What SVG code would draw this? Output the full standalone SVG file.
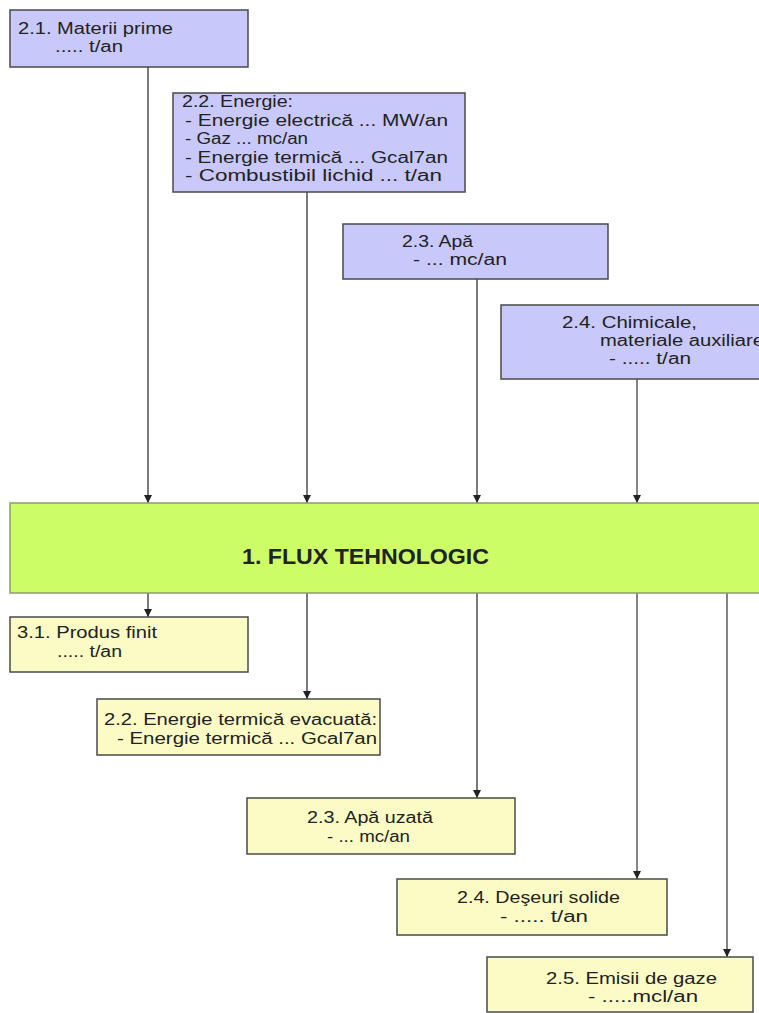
<svg xmlns="http://www.w3.org/2000/svg" width="759" height="1013" viewBox="0 0 759 1013">
<style>
.in{fill:#c8c8fa;stroke:#4a4a4a;stroke-width:1.5}
.out{fill:#fbfbc6;stroke:#4a4a4a;stroke-width:1.5}
.flux{fill:#ccfd66;stroke:#8a9a70;stroke-width:1.5}
.t{font-family:"Liberation Sans",Arial,sans-serif;font-size:16px;fill:#222}
.b{font-family:"Liberation Sans",Arial,sans-serif;font-size:22px;font-weight:bold;fill:#222}
.c{stroke:#333;stroke-width:1.3;fill:none;marker-end:url(#ah)}
.g{stroke:#777;stroke-width:1.8}
</style>
<defs>
<marker id="ah" markerUnits="userSpaceOnUse" markerWidth="8" markerHeight="8" refX="8" refY="4" orient="auto">
<path d="M0,0 L8,4 L0,8 z" fill="#222"/>
</marker>
</defs>
<rect width="759" height="1013" fill="#fff"/>
<g id="connectors">
<line class="c" x1="148" y1="67" x2="148" y2="503"/>
<line class="c" x1="307" y1="192" x2="307" y2="503"/>
<line class="c" x1="477" y1="279" x2="477" y2="503"/>
<line class="c g" x1="637" y1="379" x2="637" y2="503"/>
<line class="c" x1="148" y1="593" x2="148" y2="617"/>
<line class="c" x1="307" y1="593" x2="307" y2="699"/>
<line class="c" x1="477" y1="593" x2="477" y2="798"/>
<line class="c g" x1="637" y1="593" x2="637" y2="879"/>
<line class="c g" x1="727" y1="593" x2="727" y2="957"/>
</g>
<g id="n21">
<rect class="in" x="10" y="10" width="238" height="57"/>
<text class="t" x="18" y="34" textLength="155" lengthAdjust="spacingAndGlyphs">2.1. Materii prime</text>
<text class="t" x="55" y="52" textLength="68" lengthAdjust="spacingAndGlyphs">..... t/an</text>
</g>
<g id="n22">
<rect class="in" x="173" y="93" width="292" height="99"/>
<text class="t" x="182" y="107" textLength="111" lengthAdjust="spacingAndGlyphs">2.2. Energie:</text>
<text class="t" x="185" y="126" textLength="263" lengthAdjust="spacingAndGlyphs">- Energie electrică ... MW/an</text>
<text class="t" x="185" y="144" textLength="123" lengthAdjust="spacingAndGlyphs">- Gaz ... mc/an</text>
<text class="t" x="185" y="163" textLength="263" lengthAdjust="spacingAndGlyphs">- Energie termică ... Gcal7an</text>
<text class="t" x="185" y="181" textLength="257" lengthAdjust="spacingAndGlyphs">- Combustibil lichid ... t/an</text>
</g>
<g id="n23">
<rect class="in" x="343" y="224" width="265" height="55"/>
<text class="t" x="402" y="247" textLength="71" lengthAdjust="spacingAndGlyphs">2.3. Apă</text>
<text class="t" x="413" y="265" textLength="94" lengthAdjust="spacingAndGlyphs">- ... mc/an</text>
</g>
<g id="n24">
<rect class="in" x="501" y="305" width="270" height="74"/>
<text class="t" x="562" y="328" textLength="135" lengthAdjust="spacingAndGlyphs">2.4. Chimicale,</text>
<text class="t" x="600" y="346" textLength="164" lengthAdjust="spacingAndGlyphs">materiale auxiliare</text>
<text class="t" x="609" y="364" textLength="82" lengthAdjust="spacingAndGlyphs">- ..... t/an</text>
</g>
<g id="n1">
<rect class="flux" x="10" y="503" width="760" height="90"/>
<text class="b" x="242" y="564" textLength="247" lengthAdjust="spacingAndGlyphs">1. FLUX TEHNOLOGIC</text>
</g>
<g id="n31">
<rect class="out" x="10" y="617" width="238" height="55"/>
<text class="t" x="17" y="638" textLength="140" lengthAdjust="spacingAndGlyphs">3.1. Produs finit</text>
<text class="t" x="57" y="657" textLength="65" lengthAdjust="spacingAndGlyphs">..... t/an</text>
</g>
<g id="o22">
<rect class="out" x="97" y="699" width="283" height="56"/>
<text class="t" x="104" y="725" textLength="273" lengthAdjust="spacingAndGlyphs">2.2. Energie termică evacuată:</text>
<text class="t" x="117" y="744" textLength="260" lengthAdjust="spacingAndGlyphs">- Energie termică ... Gcal7an</text>
</g>
<g id="o23">
<rect class="out" x="247" y="798" width="268" height="56"/>
<text class="t" x="307" y="823" textLength="126" lengthAdjust="spacingAndGlyphs">2.3. Apă uzată</text>
<text class="t" x="327" y="842" textLength="83" lengthAdjust="spacingAndGlyphs">- ... mc/an</text>
</g>
<g id="o24">
<rect class="out" x="397" y="879" width="270" height="56"/>
<text class="t" x="457" y="903" textLength="163" lengthAdjust="spacingAndGlyphs">2.4. Deşeuri solide</text>
<text class="t" x="500" y="922" textLength="88" lengthAdjust="spacingAndGlyphs">- ..... t/an</text>
</g>
<g id="o25">
<rect class="out" x="487" y="957" width="266" height="55"/>
<text class="t" x="546" y="984" textLength="171" lengthAdjust="spacingAndGlyphs">2.5. Emisii de gaze</text>
<text class="t" x="588" y="1002" textLength="110" lengthAdjust="spacingAndGlyphs">- .....mcl/an</text>
</g>
</svg>
